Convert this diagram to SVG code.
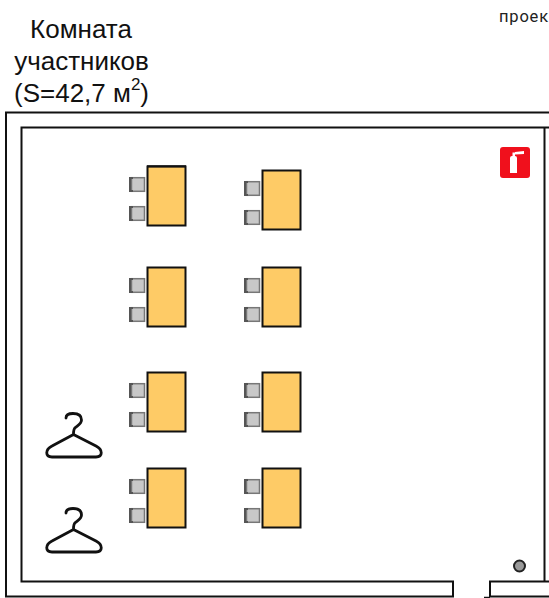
<svg xmlns="http://www.w3.org/2000/svg" width="549" height="598" viewBox="0 0 549 598">
<style>
.wall{fill:none;stroke:#111;stroke-width:2}
.desk{fill:#fecb66;stroke:#111;stroke-width:2}
.seat{fill:#c8c8c8;stroke:#777;stroke-width:1.500}
.back{fill:none;stroke:#555;stroke-width:2}
.hanger{fill:none;stroke:#111;stroke-width:2.8;stroke-linecap:round;stroke-linejoin:round}
.t{font-family:"Liberation Sans",Arial,sans-serif;font-size:26px;fill:#111;text-anchor:middle}
</style>
<defs>
<g id="chair"><rect class="seat" x="2.500" y="0.700" width="13" height="13.600"/><path class="back" d="M1 0V15M1 1H4M1 14H4"/></g>
<g id="desk"><rect class="desk" x="18.500" y="-9.500" width="38" height="59"/><use href="#chair" x="0" y="1"/><use href="#chair" x="0" y="30"/></g>
<g id="hanger"><path class="hanger" d="M46 18C46 15 48 13.500 53 13.500C59 13.500 61.500 16.500 61.500 20C61.500 24 57 26 55 28C53.500 29 53.500 31 53.500 34.500M53.500 34.500L76 46C83 49.500 83 57 76 57H32C25 57 25 49.500 32 46Z"/></g>
</defs>
<g id="title"><text class="t" x="81" y="38">Комната</text><text class="t" x="81.500" y="70">участников</text><text class="t" x="81.500" y="102">(S=42,7 м<tspan font-size="17" dy="-12">2</tspan><tspan dy="12">)</tspan></text></g>
<text x="499" y="22" font-family="Roboto,sans-serif" font-size="16.500" letter-spacing="0.800" fill="#222">проек</text>
<g id="walls"><path class="wall" d="M549 112.500H6V596.500H453V581.500H21.500V127.500H549M544.500 127.500V581.500M549 581.500H490V596.500H549"/><path d="M484 597.500H490" stroke="#111" stroke-width="1.500"/></g>
<g id="desks">
<g id="d1"><use href="#desk" x="129" y="176"/><path d="M147 166.200H186" stroke="#111" stroke-width="2"/></g><g id="d2"><use href="#desk" x="244" y="180"/></g>
<g id="d3"><use href="#desk" x="129" y="277"/></g><g id="d4"><use href="#desk" x="244" y="277"/></g>
<g id="d5"><use href="#desk" x="129" y="382"/></g><g id="d6"><use href="#desk" x="244" y="382"/></g>
<g id="d7"><use href="#desk" x="129" y="478"/></g><g id="d8"><use href="#desk" x="244" y="478"/></g>
</g>
<g id="hanger1"><use href="#hanger" x="20" y="400"/></g>
<g id="hanger2"><use href="#hanger" x="20" y="495"/></g>
<g id="extinguisher"><rect x="500" y="147" width="30" height="31" rx="3" fill="#f0101c"/><path d="M510 158Q510 156 512 156H515Q517 156 517 158V173H510Z M512.500 152.500H515V156H512.500Z M515 152L524 151V154L515 154.500Z M510 155L512.500 152.500" fill="#fff"/></g>
<g id="post"><circle cx="519.500" cy="566" r="5.500" fill="#999" stroke="#222" stroke-width="2"/></g>
</svg>
